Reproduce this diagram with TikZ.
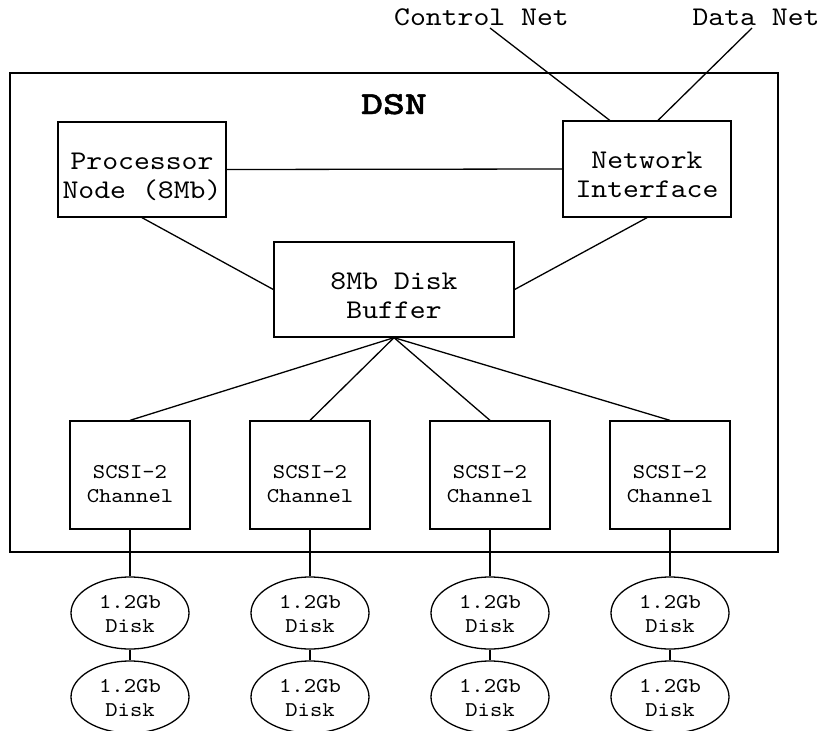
\documentclass[tikz,border=0pt]{standalone}
\usepackage{fontspec}
\setmainfont[Extension=.otf, UprightFont=*-regular, BoldFont=lmmonolt10-bold,
  FakeStretch=1.12]{lmmono10}
\newfontfamily\titlefont[Extension=.otf, UprightFont=*-bold, FakeStretch=1.3,
  FakeBold=1.5]{lmmonolt10}
\usetikzlibrary{shapes.geometric,calc}

% two centred lines: #1 = height of the first line, #2 = depth of the last one
\newcommand\twoline[4]{\rule{0pt}{#1}#3\\#4\rule[-#2]{0pt}{#2}}

\tikzset{
  wire/.style={line width=1.3pt},
  unitbox/.style={draw, line width=1.3pt, inner sep=0pt, align=center,
    font=\fontsize{27}{29}\selectfont},
  scsibox/.style={unitbox, minimum width=120pt, minimum height=108pt,
    font=\fontsize{21}{24}\selectfont},
  diskunit/.style={draw, ellipse, line width=1.3pt, inner sep=0pt, align=center,
    minimum width=118pt, minimum height=72pt,
    font=\fontsize{21}{24}\selectfont},
  netlabel/.style={anchor=base, inner sep=0pt, font=\fontsize{27}{29}\selectfont}
}

\begin{document}
\begin{tikzpicture}[x=1pt, y=-1pt]
  \useasboundingbox (0,0) rectangle (825,731);

  % enclosing DSN frame
  \draw[line width=1.6pt] (10,73) rectangle (778,552);
  \node[anchor=base, inner sep=0pt, font=\fontsize{32}{36}\titlefont] (dsn) at (394,114) {DSN};

  % external networks
  \node[netlabel] (cnet) at (481.5,25) {Control Net};
  \node[netlabel] (dnet) at (756,25) {Data Net};
  \coordinate (cnetend) at (490,28);
  \coordinate (dnetend) at (752,28);

  % main units
  \node[unitbox, minimum width=168pt, minimum height=95pt] (proc) at (142,169.5)
    {\twoline{36pt}{8pt}{Processor}{Node (8Mb)}};
  \node[unitbox, minimum width=168pt, minimum height=96pt] (net) at (647,169)
    {\twoline{36pt}{8pt}{Network}{Interface}};
  \node[unitbox, minimum width=240pt, minimum height=95pt] (buf) at (394,289.5)
    {\twoline{36pt}{8pt}{8Mb Disk}{Buffer}};

  % SCSI channels and their disks
  \foreach \i/\x in {1/130, 2/310, 3/490, 4/670} {
    \node[scsibox] (scsi\i) at (\x,475) {\twoline{38pt}{8pt}{SCSI-2}{Channel}};
    \node[diskunit] (diskA\i) at (\x,613) {\twoline{16pt}{0pt}{1.2Gb}{Disk}};
    \node[diskunit] (diskB\i) at (\x,697) {\twoline{16pt}{0pt}{1.2Gb}{Disk}};
    \draw[wire] (buf.south) -- (scsi\i.north);
    \draw[wire] (scsi\i.south) -- (diskA\i.north);
    \draw[wire] (diskA\i.south) -- (diskB\i.north);
  }

  % internal links
  \draw[wire] (proc.east) -- (net.west);
  \draw[wire] (proc.south) -- (buf.west);
  \draw[wire] (net.south) -- (buf.east);

  % network attachments
  \draw[wire] (cnetend) -- ($(net.north west)!0.28!(net.north east)$);
  \draw[wire] (dnetend) -- ($(net.north west)!0.565!(net.north east)$);
\end{tikzpicture}
\end{document}
